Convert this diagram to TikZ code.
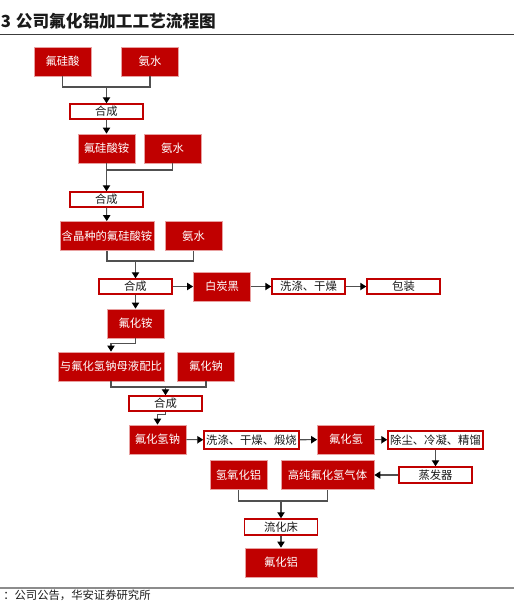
\documentclass[tikz,border=0pt]{standalone}
\usepackage{fontspec}
\newfontfamily\cjk{Noto Sans CJK SC}
\usetikzlibrary{arrows.meta}
\definecolor{ink}{HTML}{1A1A1A}
\definecolor{hred}{HTML}{C00000}
\definecolor{hredlt}{HTML}{E8A0A0}
\definecolor{wire}{HTML}{505050}
\definecolor{rule}{HTML}{8C8C8C}
\tikzset{
  rbox/.style={draw=hredlt, fill=hred, line width=0.6pt, inner sep=0pt,
               minimum width=42.75pt, minimum height=21.75pt,
               font=\cjk\fontsize{8.5}{10}\selectfont, text=white},
  wbox/.style={draw=hred, fill=white, line width=1.1pt, inner sep=0pt,
               minimum width=54.75pt, minimum height=11.25pt,
               font=\cjk\fontsize{8.5}{10}\selectfont, text=ink},
  ln/.style={draw=wire, line width=0.8pt},
  fl/.style={ln, -{Triangle[length=4.5pt, width=5.5pt, color=black]}},
}
\begin{document}
\begin{tikzpicture}[x=0.75pt, y=-0.75pt]
  \useasboundingbox (0,0) rectangle (514,601);
  % title and rules
  \node[anchor=base west, inner sep=0pt, text=ink,
        font=\cjk\bfseries\fontsize{12.5}{14}\selectfont] (title) at (0.5,27)
    {3\hspace{0.3em}公司氟化铝加工工艺流程图};
  \draw[draw=ink!85, line width=0.8pt] (0,34.5) -- (514,34.5);
  \draw[draw=rule, line width=1.2pt] (0,588) -- (514,588);
  \node[anchor=base west, inner sep=0pt, text=ink,
        font=\cjk\fontsize{8.5}{10}\selectfont] (src) at (3,599.5)
    {：公司公告，华安证券研究所};

  % first synthesis
  \node[rbox] (hfs) at (62.5,61.5) {氟硅酸};
  \node[rbox] (aq1) at (150,61.5) {氨水};
  \node[wbox] (syn1) at (106.5,111.5) {合成};
  \node[rbox] (afs) at (106.5,148.5) {氟硅酸铵};
  \node[rbox] (aq2) at (172.5,148.5) {氨水};
  \node[wbox] (syn2) at (106.5,199.5) {合成};
  \node[rbox, minimum width=70.5pt] (seed) at (107,236) {含晶种的氟硅酸铵};
  \node[rbox] (aq3) at (193.5,236) {氨水};
  \node[wbox] (syn3) at (135.5,286.5) {合成};
  \node[rbox] (silica) at (222,286.5) {白炭黑};
  \node[wbox] (wash1) at (308.5,286.5) {洗涤、干燥};
  \node[wbox] (pack) at (403.5,286.5) {包装};

  % sodium bifluoride route
  \node[rbox] (af) at (135.5,323.5) {氟化铵};
  \node[rbox, minimum width=79.5pt] (mix) at (111,366.5) {与氟化氢钠母液配比};
  \node[rbox] (naf) at (206,366.5) {氟化钠};
  \node[wbox] (syn4) at (165.5,403.5) {合成};
  \node[rbox] (sbf) at (157.5,439.5) {氟化氢钠};
  \node[wbox, minimum width=71.25pt, minimum height=13.5pt] (wash2) at (251.5,440) {洗涤、干燥、煅烧};
  \node[rbox] (hf) at (346,439.5) {氟化氢};
  \node[wbox, minimum width=71.25pt, minimum height=13.5pt] (purify) at (435.5,440) {除尘、冷凝、精馏};
  \node[wbox, minimum height=12pt] (evap) at (435.5,475) {蒸发器};
  \node[rbox, minimum width=69.75pt] (hphf) at (327.5,475) {高纯氟化氢气体};
  \node[rbox] (aoh) at (238.5,475) {氢氧化铝};
  \node[wbox, minimum height=12pt] (fbed) at (281,527) {流化床};
  \node[rbox, minimum width=54pt] (alf) at (281,562.5) {氟化铝};

  % connectors
  \coordinate (j1) at (106.5,87);
  \draw[ln] (hfs.south) |- (j1) -| (aq1.south);
  \draw[fl] (j1) -- (syn1);
  \draw[fl] (syn1) -- (afs);
  \coordinate (j2) at (106.5,170);
  \draw[ln] (aq2.south) |- (j2);
  \draw[fl] (afs) -- (syn2);
  \draw[fl] (syn2) -- (seed);
  \coordinate (j3) at (135.5,261);
  \draw[ln] (seed.south) |- (j3) -| (aq3.south);
  \draw[fl] (j3) -- (syn3);
  \draw[fl] (syn3) -- (silica);
  \draw[fl] (silica) -- (wash1);
  \draw[fl] (wash1) -- (pack);
  \draw[fl] (syn3) -- (af);
  \draw[fl] (af.south) -- ++(0,5) -| (mix.north);
  \coordinate (j4) at (165.5,387);
  \draw[ln] (mix.south) |- (j4) -| (naf.south);
  \draw[fl] (j4) -- (syn4);
  \draw[fl] (syn4.south) -- ++(0,3) -| (sbf.north);
  \draw[fl] (sbf) -- (wash2);
  \draw[fl] (wash2) -- (hf);
  \draw[fl] (hf) -- (purify);
  \draw[fl] (purify) -- (evap);
  \draw[fl] (evap) -- (hphf);
  \coordinate (j5) at (281,501);
  \draw[ln] (aoh.south) |- (j5) -| (hphf.south);
  \draw[fl] (j5) -- (fbed);
  \draw[fl] (fbed) -- (alf);
\end{tikzpicture}
\end{document}
